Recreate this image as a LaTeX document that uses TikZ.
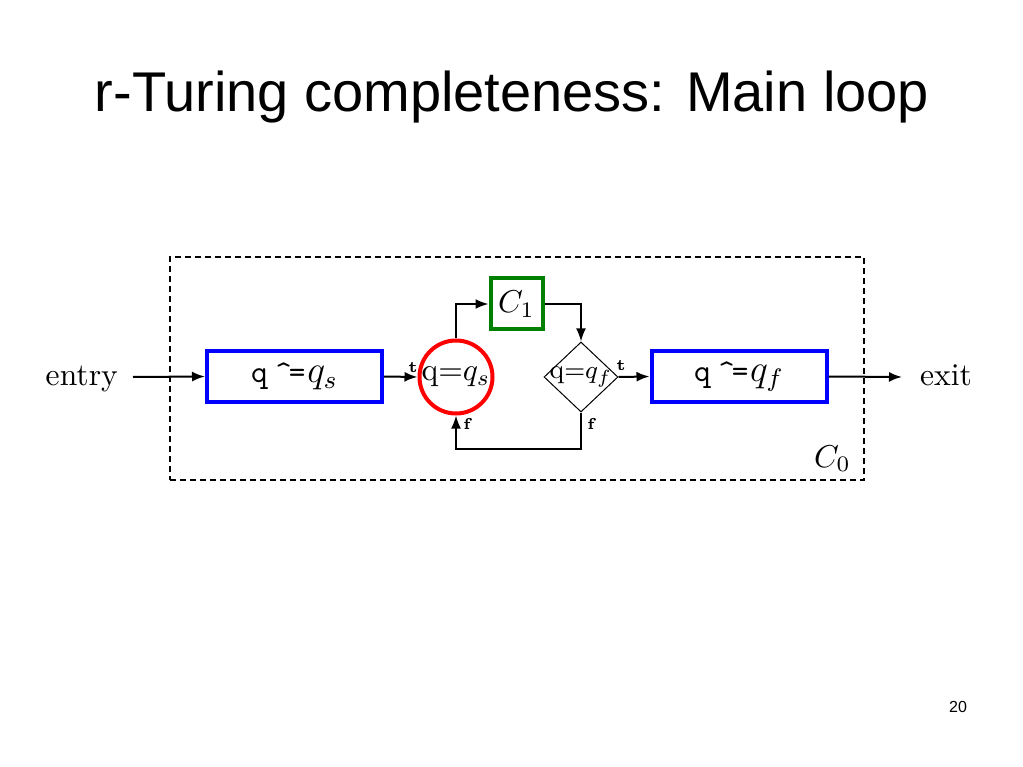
\documentclass[tikz,border=0pt]{standalone}
\usepackage{graphicx}
\usepackage{fontspec}
\newfontfamily\arialfont{Liberation Sans}
\usetikzlibrary{shapes.geometric,arrows.meta}
\newcommand\scl[1]{\scalebox{3.16}{#1}}
\newcommand\asgn[1]{\texttt{q}\hspace{2.3pt}\texttt{\^{}}\hspace{-1pt}\texttt{=}\hspace{0.6pt}{\large$#1$}}
\begin{document}
\begin{tikzpicture}[x=1pt,y=-1pt,
  lbl/.style={inner sep=0pt},
  conn/.style={line width=2pt, -{Latex[length=13pt,width=10pt]}},
  bluebox/.style={draw=blue, line width=4pt, minimum width=175pt, minimum height=51pt, inner sep=0pt},
]
\useasboundingbox (0,0) rectangle (1023,767);
\node[font=\arialfont\fontsize{56}{60}\selectfont, anchor=base] (title) at (512,112) {r-Turing completeness: Main loop};
\node[font=\arialfont\fontsize{16}{18}\selectfont, anchor=base] (page) at (958,712) {20};
\node[draw, line width=2pt, dash pattern=on 6pt off 4pt, minimum width=694pt, minimum height=223pt, inner sep=0pt] (c0) at (517,368.5) {};
\node[anchor=base east, inner sep=0pt] (c0l) at (851,467) {\scl{$C_0$}};
\node[anchor=base east, inner sep=0pt] (entry) at (118,385) {\scl{entry}};
\node[bluebox] (b1) at (294.5,376.5) {\scl{\asgn{q_s}}};
\node[draw=red, line width=4pt, circle, minimum size=73pt, inner sep=0pt] (circ) at (456,377) {\scl{$\mathrm{q}{=}q_s$}};
\node[draw=green!50!black, line width=4pt, minimum width=52pt, minimum height=51pt, inner sep=0pt] (c1) at (516.5,304) {\scl{$C_1$}};
\node[draw, line width=1pt, diamond, minimum width=74pt, minimum height=70pt, inner sep=0pt] (dia) at (581,377) {};
\node[inner sep=0pt] (diat) at (dia.center) {\scl{\fontsize{8.5}{10}\selectfont$\mathrm{q}{=}q_f$}};
\node[bluebox] (b2) at (739,376.5) {\scl{\asgn{q_f}}};
\node[anchor=base west, inner sep=0pt] (exit) at (920,385) {\scl{exit}};
\coordinate (ein) at (133,377);
\coordinate (eout) at (902,377);
\draw[conn] (ein) -- (b1.west);
\draw[conn] (b1.east) -- (circ.west);
\draw[conn] (circ.north) |- (c1.west);
\draw[conn] (c1.east) -| (dia.north);
\draw[conn] (dia.east) -- (b2.west);
\draw[conn] (b2.east) -- (eout);
\coordinate (fl) at (456,449);
\draw[conn] (dia.south) |- (fl) -- (circ.south);
\node[lbl] (t1) at (413,368) {\scl{\tiny\bfseries t}};
\node[lbl] (t2) at (621,366) {\scl{\tiny\bfseries t}};
\node[lbl] (f1) at (467,424) {\scl{\tiny\bfseries f}};
\node[lbl] (f2) at (591,424) {\scl{\tiny\bfseries f}};
\end{tikzpicture}
\end{document}
